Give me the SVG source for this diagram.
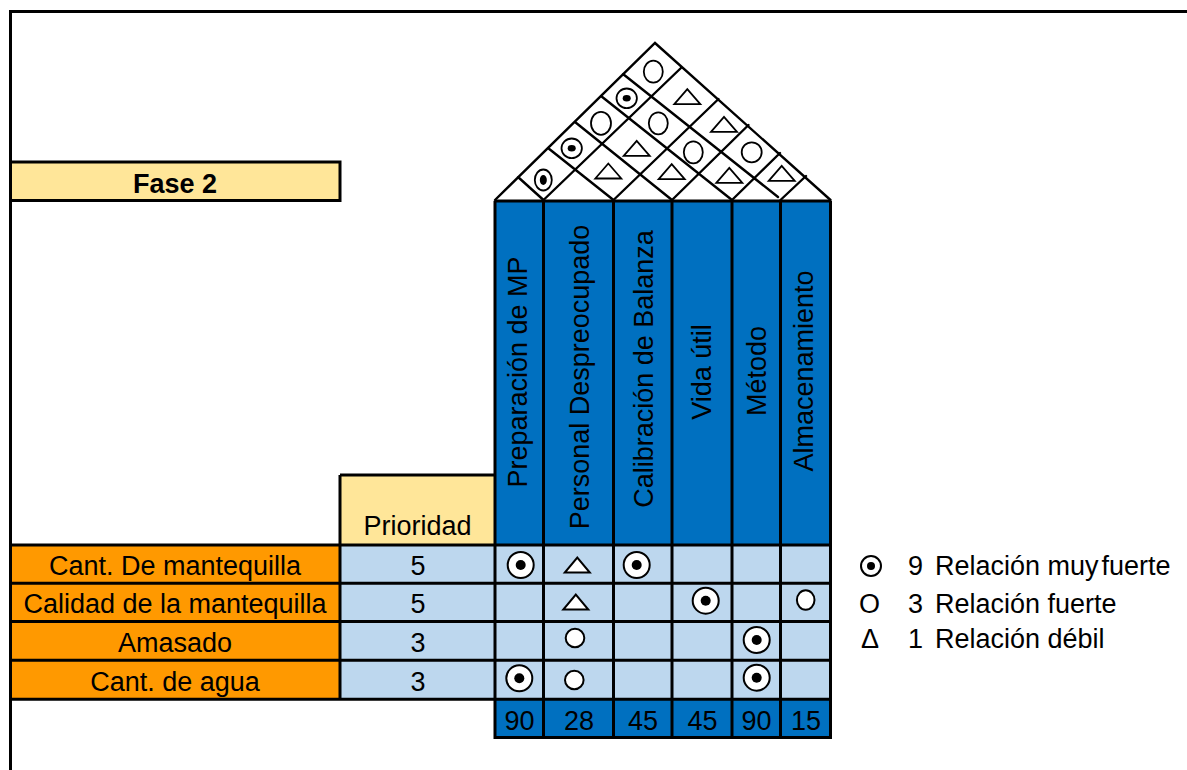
<svg xmlns="http://www.w3.org/2000/svg" width="1187" height="770" viewBox="0 0 1187 770">
<style>
text{font-family:"Liberation Sans",Arial,sans-serif;fill:#000}
.t{font-size:27px;text-anchor:middle}
.hd{font-size:27px;text-anchor:middle}
.lg{font-size:27px}
.ln{stroke:#000;stroke-width:3;fill:none}
.rf{stroke:#000;stroke-width:2.4;fill:none;stroke-linecap:round}
.sym{fill:#fff;stroke:#000;stroke-width:2}
.rs{fill:#fff;stroke:#000;stroke-width:1.8}
.dot{fill:#000}
.yel{fill:#FFE699}
.blu{fill:#0070C0}
.org{fill:#FF9900}
.lbl{fill:#BDD7EE}
</style>
<defs>
  <!-- matrix relation marks -->
  <g id="m9"><circle r="13" class="sym"/><circle r="5" class="dot"/></g>
  <g id="m3"><circle r="9.3" class="sym"/></g>
  <g id="m1"><polygon points="-12.5,7.5 12.5,7.5 0,-7.5" class="sym"/></g>
  <!-- roof marks -->
  <g id="r9"><ellipse rx="10.2" ry="9.8" class="rs"/><ellipse rx="4" ry="3.2" class="dot"/></g>
  <g id="r1"><polygon points="-13,7.5 13,7.5 0,-7.5" class="rs"/></g>
</defs>

<!-- cell fills -->
<g id="fills">
  <rect class="yel" x="10" y="162" width="330" height="38.5"/>
  <rect class="yel" x="340" y="475" width="155" height="70"/>
  <rect class="blu" x="495" y="201" width="335.5" height="344"/>
  <rect class="org" x="10" y="545" width="330" height="154"/>
  <rect class="lbl" x="340" y="545" width="490.5" height="154"/>
  <rect class="blu" x="495" y="699" width="335.5" height="38.5"/>
</g>

<!-- outer frame -->
<g id="frame">
  <path class="ln" d="M9,11.5 H1187 M10.5,10 V770"/>
</g>

<!-- grid lines -->
<g id="grid">
  <rect class="ln" x="10.5" y="162" width="329.5" height="38.5"/>
  <path class="ln" d="M340,475 H495 M495,201 H830.5
    M10,545 H830.5 M10,583.3 H830.5 M10,621.6 H830.5 M10,660.3 H830.5 M10,699.2 H830.5 M495,737.5 H830.5
    M340,475 V699 M495,201 V739 M543.5,201 V739 M613.5,201 V739 M672,201 V739
    M732,201 V739 M780.5,201 V739 M830.5,201 V739"/>
</g>

<!-- correlation roof -->
<g id="roof">
  <path class="rf" d="M495,200 L655,43 L830.5,200
    M543.5,200 L682,67 M613.5,200 L718.5,99 M672,200 L748.5,125 M732,200 L780,153 M780.5,200 L806,176
    M518,177 L543.5,200 M548,148 L613.5,200 M575,122 L672,200 M601,96 L732,200 M623,74 L778,197"/>
  <ellipse class="rs" cx="653.3" cy="71.7" rx="9.5" ry="11"/>
  <use href="#r9" x="626.7" y="98.3"/>
  <use href="#r1" x="687.3" y="96.7"/>
  <ellipse class="rs" cx="601" cy="123.3" rx="10" ry="11.5"/>
  <ellipse class="rs" cx="658.3" cy="123.3" rx="9.5" ry="11"/>
  <use href="#r1" x="724" y="124.3"/>
  <use href="#r9" x="571.7" y="148.3"/>
  <use href="#r1" x="636.7" y="148.3"/>
  <ellipse class="rs" cx="693.3" cy="152.3" rx="9.5" ry="11"/>
  <ellipse class="rs" cx="751.7" cy="152.3" rx="10" ry="10"/>
  <ellipse class="rs" cx="543.3" cy="180" rx="8.5" ry="10.5"/>
  <ellipse class="dot" cx="543.3" cy="180" rx="3.5" ry="5"/>
  <use href="#r1" x="608.3" y="171"/>
  <use href="#r1" x="671.7" y="171.7"/>
  <use href="#r1" x="729.3" y="175.3"/>
  <use href="#r1" x="781.7" y="173.3"/>
</g>

<!-- titles -->
<g id="fase">
  <text class="t" x="175" y="193" font-weight="bold">Fase 2</text>
</g>
<g id="prioridad">
  <text class="t" x="417.5" y="535">Prioridad</text>
</g>

<!-- column headers (vertical) -->
<g id="headers">
  <text class="hd" transform="translate(527,372) rotate(-90)">Preparación de MP</text>
  <text class="hd" transform="translate(589,377) rotate(-90)">Personal Despreocupado</text>
  <text class="hd" transform="translate(653,369) rotate(-90)">Calibración de Balanza</text>
  <text class="hd" transform="translate(711,372) rotate(-90)">Vida útil</text>
  <text class="hd" transform="translate(766,371) rotate(-90)">Método</text>
  <text class="hd" transform="translate(813,371) rotate(-90)">Almacenamiento</text>
</g>

<!-- requirement rows -->
<g id="rows">
  <text class="t" x="175" y="575">Cant. De mantequilla</text>
  <text class="t" x="175" y="613">Calidad de la mantequilla</text>
  <text class="t" x="175" y="652">Amasado</text>
  <text class="t" x="175" y="691">Cant. de agua</text>
  <text class="t" x="418" y="575">5</text>
  <text class="t" x="418" y="613">5</text>
  <text class="t" x="418" y="652">3</text>
  <text class="t" x="418" y="691">3</text>
</g>

<!-- relationship matrix -->
<g id="matrix">
  <use href="#m9" x="520.7" y="565"/>
  <use href="#m1" x="577.3" y="565"/>
  <use href="#m9" x="636.7" y="565"/>
  <use href="#m1" x="575.8" y="602"/>
  <use href="#m9" x="705.7" y="600.7"/>
  <ellipse class="sym" cx="805.7" cy="600" rx="8.8" ry="9.8"/>
  <use href="#m3" x="575" y="638"/>
  <use href="#m9" x="756.7" y="640"/>
  <use href="#m9" x="519.3" y="678.3"/>
  <use href="#m3" x="574.3" y="680"/>
  <use href="#m9" x="756.7" y="677.7"/>
</g>

<!-- column totals -->
<g id="totals">
  <text class="t" x="519.5" y="730">90</text>
  <text class="t" x="579" y="730">28</text>
  <text class="t" x="643" y="730">45</text>
  <text class="t" x="702.5" y="730">45</text>
  <text class="t" x="756.5" y="730">90</text>
  <text class="t" x="806" y="730">15</text>
</g>

<!-- legend -->
<g id="legend">
  <circle class="sym" cx="871" cy="566" r="10"/>
  <circle class="dot" cx="871" cy="566" r="4"/>
  <text class="lg" x="908" y="575">9</text>
  <text class="lg" x="935" y="575">Relación muy<tspan dx="3">fuerte</tspan></text>
  <text class="lg" x="859" y="613">O</text>
  <text class="lg" x="908" y="613">3</text>
  <text class="lg" x="935" y="613">Relación fuerte</text>
  <text class="lg" x="861" y="648">Δ</text>
  <text class="lg" x="908" y="648">1</text>
  <text class="lg" x="935" y="648">Relación débil</text>
</g>
</svg>
